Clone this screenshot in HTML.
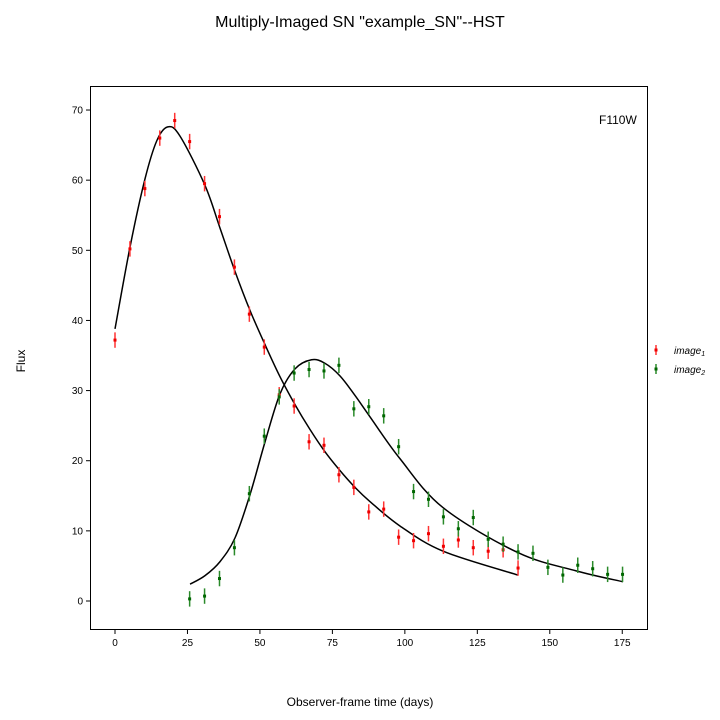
<!DOCTYPE html>
<html><head><meta charset="utf-8"><style>
body{margin:0;background:#fff;}
svg{display:block;font-family:"Liberation Sans",sans-serif;}
</style></head><body>
<svg id="chart" width="720" height="720" viewBox="0 0 720 720">
<text x="360" y="27" font-size="16" text-anchor="middle">Multiply-Imaged SN "example_SN"--HST</text>
<rect x="90.5" y="86.5" width="557" height="543" fill="none" stroke="#000" stroke-width="1"/>
<g id="xticks"></g>
<g id="yticks"></g>
<g id="curves"></g>
<g id="pts"></g>
<text x="599" y="124" font-size="12">F110W</text>
<text x="360" y="706" font-size="12" text-anchor="middle">Observer-frame time (days)</text>
<text x="25" y="361" font-size="12" text-anchor="middle" transform="rotate(-90 25 361)">Flux</text>
<g>
<g>
<line x1="656" y1="345" x2="656" y2="355" stroke="#f33" stroke-width="1.5"/><rect x="654.5" y="348.5" width="3" height="3" fill="#e00"/>
<text x="674" y="354" font-size="10" font-style="italic">image<tspan font-size="7" dy="2">1</tspan></text></g>
<g>
<line x1="656" y1="364" x2="656" y2="374" stroke="#2a8a2a" stroke-width="1.5"/><rect x="654.5" y="367.5" width="3" height="3" fill="#060"/>
<text x="674" y="373" font-size="10" font-style="italic">image<tspan font-size="7" dy="2">2</tspan></text></g>
</g>
</svg>
<script>
const xTicks=[0,25,50,75,100,125,150,175];
const yTicks=[0,10,20,30,40,50,60,70];
const red_t=[0,5.15,10.3,15.45,20.6,25.75,30.9,36.05,41.2,46.35,51.5,56.65,61.8,66.95,72.1,77.25,82.4,87.55,92.7,97.85,103,108.15,113.3,118.45,123.6,128.75,133.9,139.05];
const red_f=[37.2,50.2,58.8,66,68.5,65.5,59.5,54.8,47.6,40.9,36.2,29.4,27.8,22.7,22.2,18,16.2,12.7,13.1,9.1,8.6,9.6,7.8,8.7,7.6,7.1,7.3,4.7];
const green_t=[25.75,30.9,36.05,41.2,46.35,51.5,56.65,61.8,66.95,72.1,77.25,82.4,87.55,92.7,97.85,103,108.15,113.3,118.45,123.6,128.75,133.9,139.05,144.2,149.35,154.5,159.65,164.8,169.95,175.1];
const green_f=[0.3,0.7,3.2,7.6,15.3,23.5,29.1,32.5,33,32.8,33.6,27.4,27.7,26.4,22,15.6,14.5,12,10.3,11.9,8.8,8.1,7,6.8,4.8,3.7,5.1,4.6,3.8,3.8];
const err=1.1;
const redModel_t=[0,5.2,10.3,14.4,18.2,22.4,31,36.2,41.4,46.6,51.7,56.9,62.1,67.2,72.4,77.6,82.8,87.9,98.3,113.2,139];
const redModel_f=[38.8,50.5,60.1,65.6,67.6,66.3,59.3,53.2,47,41.4,36.6,32,28,24.5,21.3,18.6,16.2,14.2,10.7,7.1,3.7];
const greenModel_t=[25.9,31,36.2,41.4,46.6,51.7,56.9,62.1,67.8,72.4,77.6,82.8,87.9,98.3,113.2,139,159.1,175.2];
const greenModel_f=[2.4,3.6,5.6,9,15.2,22.6,29.5,33.1,34.4,33.9,32.1,29.3,26.3,20.3,13.3,6.9,4.3,2.75];

const NS='http://www.w3.org/2000/svg';
const X=t=>115+t*2.8986;
const Y=f=>601-f*7.014;
function mk(tag,attrs,parent){const e=document.createElementNS(NS,tag);for(const k in attrs)e.setAttribute(k,attrs[k]);parent.appendChild(e);return e;}
const gx=document.getElementById('xticks'),gy=document.getElementById('yticks');
xTicks.forEach(v=>{
  const l=mk('line',{x1:X(v),x2:X(v),y1:630,y2:634,stroke:'#000'},gx);
  
  
  const t=mk('text',{x:X(v),y:646,'font-size':10,'text-anchor':'middle'},gx);t.textContent=v;
  
  
});
yTicks.forEach(v=>{
  const l=mk('line',{x1:86,x2:90,y1:Y(v),y2:Y(v),stroke:'#000'},gy);
  
  
  const t=mk('text',{x:83,y:Y(v)+3.5,'font-size':10,'text-anchor':'end'},gy);t.textContent=v;
  
  
});
function smooth(ts,fs){
  const p=ts.map((t,i)=>[X(t),Y(fs[i])]);
  let d='M'+p[0][0]+','+p[0][1];
  for(let i=0;i<p.length-1;i++){
    const p0=p[i-1]||p[i],p1=p[i],p2=p[i+1],p3=p[i+2]||p[i+1];
    const c1=[p1[0]+(p2[0]-p0[0])/6,p1[1]+(p2[1]-p0[1])/6];
    const c2=[p2[0]-(p3[0]-p1[0])/6,p2[1]-(p3[1]-p1[1])/6];
    d+=`C${c1[0]},${c1[1]} ${c2[0]},${c2[1]} ${p2[0]},${p2[1]}`;
  }
  return d;
}
const gc=document.getElementById('curves');
const c1=mk('path',{d:smooth(redModel_t,redModel_f),fill:'none',stroke:'#000','stroke-width':1.5},gc);


const c2=mk('path',{d:smooth(greenModel_t,greenModel_f),fill:'none',stroke:'#000','stroke-width':1.5},gc);


const gp=document.getElementById('pts');
function drawPts(ts,fs,bar,dot,name){
  ts.forEach((t,i)=>{
    const g=mk('g',{},gp);
    
    
    mk('line',{x1:X(t),x2:X(t),y1:Y(fs[i]+err),y2:Y(fs[i]-err),stroke:bar,'stroke-width':1.5},g);
    mk('rect',{x:X(t)-1.5,y:Y(fs[i])-1.5,width:3,height:3,fill:dot},g);
  });
}
drawPts(red_t,red_f,'#f33','#e00','point-image1');
drawPts(green_t,green_f,'#2a8a2a','#060','point-image2');
</script>
</body></html>
